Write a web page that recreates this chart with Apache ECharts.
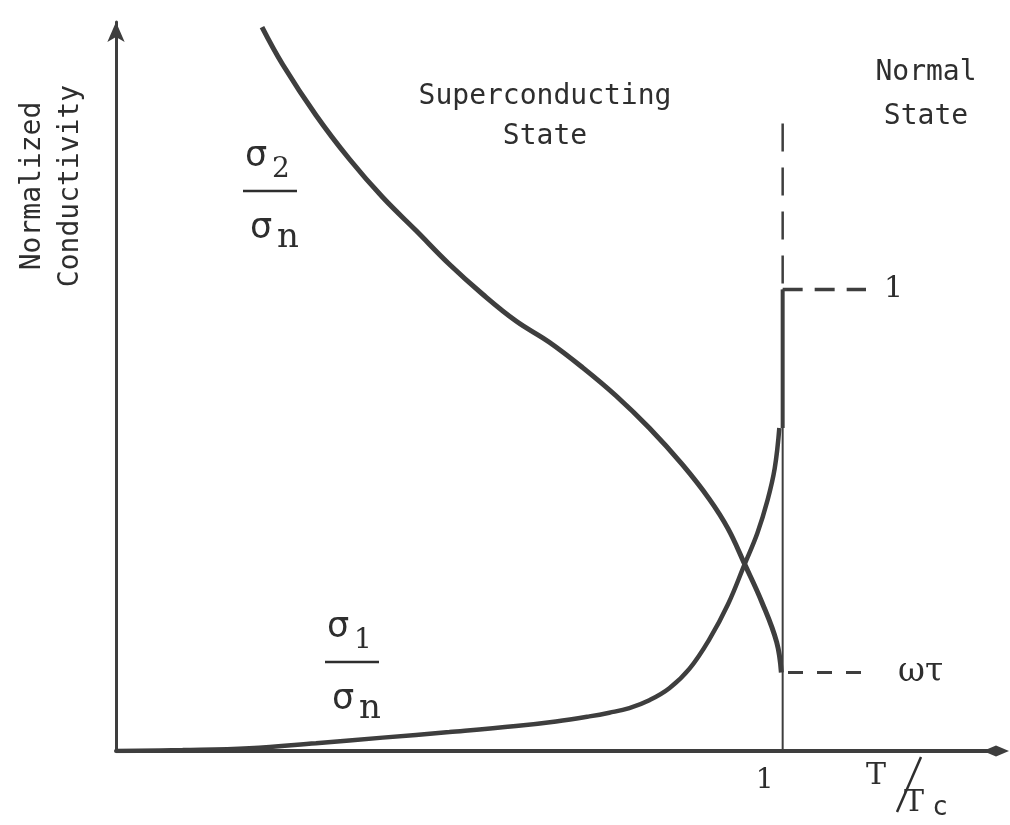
<!DOCTYPE html>
<html>
<head>
<meta charset="utf-8">
<title>Normalized conductivity vs T/Tc</title>
<script src="https://cdn.jsdelivr.net/npm/echarts@6/dist/echarts.min.js"></script>
<style>
  html, body { margin: 0; padding: 0; background: #ffffff; }
  #chart { width: 1010px; height: 825px; }
</style>
</head>
<body>
<div id="chart"></div>
<script>
// Reduced temperature T/Tc (x) and normalized conductivity (y)
const sigma2T = [0.219, 0.25, 0.30, 0.35, 0.40, 0.45, 0.50, 0.55, 0.60, 0.65, 0.70, 0.75, 0.80, 0.85, 0.89, 0.918, 0.943, 0.969, 0.991, 0.998];
const sigma2V = [1.569, 1.488, 1.378, 1.283, 1.200, 1.128, 1.055, 0.990, 0.932, 0.886, 0.831, 0.770, 0.700, 0.620, 0.546, 0.482, 0.405, 0.322, 0.236, 0.170];

const sigma1T = [0, 0.10, 0.20, 0.30, 0.40, 0.50, 0.60, 0.66, 0.71, 0.74, 0.77, 0.80, 0.83, 0.86, 0.89, 0.918, 0.943, 0.962, 0.977, 0.988, 0.995];
const sigma1V = [0, 0.002, 0.006, 0.017, 0.029, 0.041, 0.054, 0.064, 0.075, 0.083, 0.093, 0.110, 0.136, 0.178, 0.242, 0.318, 0.405, 0.472, 0.542, 0.612, 0.700];

const TC = 1;               // T/Tc at the transition
const NORMAL_LEVEL = 1;     // sigma/sigma_n in the normal state
const OMEGA_TAU = 0.17;     // sigma2/sigma_n in the normal state
const JUMP_START = 0.70;    // sigma1 just below Tc
const GUIDE_END = 1.125;    // right end of the level guides
const TC_GUIDE_TOP = 1.36;  // top of the dashed Tc guide
const xTickLabels = { 1: '1' };

const INK = '#3e3e3e';
const TEXT = '#2e2e2e';
const MONO = "'DejaVu Sans Mono', monospace";
const SERIF = "'DejaVu Serif', serif";
const SANS = "'DejaVu Sans', sans-serif";

const pairs = (xs, ys) => xs.map((x, i) => [x, ys[i]]);

const chart = echarts.init(document.getElementById('chart'), null, { renderer: 'canvas' });

// sigma over a fraction bar, with the subscript after each sigma
function fraction(cx, cy, sub) {
  const txt = (x, y, text, font) => ({
    type: 'text', x: x, y: y,
    style: { text: text, font: font, fill: TEXT, align: 'center', verticalAlign: 'middle',
             textAlign: 'center', textVerticalAlign: 'middle' }
  });
  return {
    type: 'group', x: cx, y: cy, silent: true,
    children: [
      txt(-14, -34, 'σ', '35px ' + SANS),
      txt(11, -21, sub, '28px ' + SERIF),
      { type: 'line', shape: { x1: -27, y1: 0, x2: 27, y2: 0 }, style: { stroke: TEXT, lineWidth: 2.5 } },
      txt(-9, 38, 'σ', '35px ' + SANS),
      txt(18, 47, 'n', '34px ' + SERIF)
    ]
  };
}

function label(x, y, text, font, rotation, lineHeight) {
  return {
    type: 'text', x: x, y: y, rotation: rotation || 0, silent: true,
    style: { text: text, font: font, fill: TEXT, lineHeight: lineHeight || 40,
             align: 'center', verticalAlign: 'middle', textAlign: 'center', textVerticalAlign: 'middle' }
  };
}

const curveStyle = { showSymbol: false, silent: true, smooth: 0.4 };

const option = {
  backgroundColor: '#ffffff',
  animation: false,
  grid: { left: 116, right: 14, top: 22, bottom: 74, containLabel: false },
  xAxis: {
    type: 'value', min: 0, max: 1.32, interval: 1,
    splitLine: { show: false },
    axisTick: { show: false },
    axisLine: { show: true, onZero: true, symbol: ['none', 'diamond'], symbolSize: [11, 26],
                lineStyle: { color: INK, width: 4 } },
    axisLabel: {
      show: true, margin: 16, color: TEXT, fontSize: 28, fontFamily: SERIF,
      padding: [0, 36, 0, 0],
      formatter: v => xTickLabels[v] || ''
    }
  },
  yAxis: {
    type: 'value', min: 0, max: 1.58,
    splitLine: { show: false },
    axisTick: { show: false },
    axisLabel: { show: false },
    axisLine: { show: true, symbol: ['none', 'arrow'], symbolSize: [13, 20],
                lineStyle: { color: INK, width: 3 } }
  },
  series: [
    Object.assign({ name: 'sigma2', type: 'line', data: pairs(sigma2T, sigma2V),
      lineStyle: { color: INK, width: 5 } }, curveStyle),
    Object.assign({ name: 'sigma1', type: 'line', data: pairs(sigma1T, sigma1V),
      lineStyle: { color: INK, width: 4.5 } }, curveStyle),
    { name: 'sigma1 jump', type: 'line', data: [[TC, JUMP_START], [TC, NORMAL_LEVEL]],
      showSymbol: false, silent: true, lineStyle: { color: INK, width: 4 } },
    { name: 'Tc', type: 'line', data: [[TC, 0], [TC, NORMAL_LEVEL]],
      showSymbol: false, silent: true, lineStyle: { color: INK, width: 2 } },
    { name: 'Tc guide', type: 'line', data: [[TC, TC_GUIDE_TOP], [TC, NORMAL_LEVEL]],
      showSymbol: false, silent: true, lineStyle: { color: INK, width: 2.5, type: [28, 16] } },
    { name: 'normal sigma1', type: 'line', data: [[TC, NORMAL_LEVEL], [GUIDE_END, NORMAL_LEVEL]],
      showSymbol: false, silent: true, lineStyle: { color: INK, width: 3.5, type: [20, 12] },
      endLabel: { show: true, formatter: '1', distance: 18, color: TEXT, fontSize: 30, fontFamily: SERIF } },
    { name: 'normal sigma2', type: 'line', data: [[TC + 0.008, OMEGA_TAU], [GUIDE_END, OMEGA_TAU]],
      showSymbol: false, silent: true, lineStyle: { color: INK, width: 3, type: [15, 14] },
      endLabel: { show: true, formatter: 'ωτ', distance: 32, color: TEXT, fontSize: 33, fontFamily: SERIF } }
  ],
  graphic: [
    label(52, 186, 'Normalized\nConductivity', '28px ' + MONO, Math.PI / 2, 38),
    label(545, 117, 'Superconducting\nState', '28px ' + MONO, 0, 40),
    label(926, 95, 'Normal\nState', '28px ' + MONO, 0, 44),
    fraction(270, 191, '2'),
    fraction(352, 662, '1'),
    // T/Tc axis caption
    label(876, 776, 'T', '30px ' + SERIF),
    { type: 'line', silent: true, shape: { x1: 921, y1: 757, x2: 897, y2: 812 }, style: { stroke: TEXT, lineWidth: 2.5 } },
    label(914, 803, 'T', '30px ' + SERIF),
    label(940, 808, 'c', '26px ' + MONO)
  ]
};

chart.setOption(option);
</script>
</body>
</html>
